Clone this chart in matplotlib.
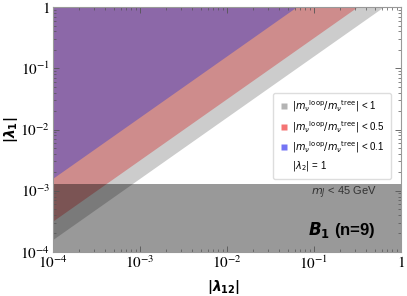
import matplotlib
matplotlib.use("Agg")
import matplotlib.pyplot as plt
from matplotlib.lines import Line2D
import matplotlib.ticker as mticker

plt.rcParams["mathtext.fontset"] = "stix"
plt.rcParams["font.family"] = ["Liberation Sans", "DejaVu Sans"]

# ---- data ----
lam12 = [1e-4, 1.0]                 # x endpoints
bound_r1 = [1.6e-4, 1.6]            # |m_loop/m_tree| < 1 lower edge
bound_r05 = [3.2e-4, 3.2]           # < 0.5
bound_r01 = [1.6e-3, 16.0]          # < 0.1
mj_cut = 1.3e-3                     # m_J < 45 GeV below this

tick_vals = [1e-4, 1e-3, 1e-2, 1e-1, 1]
tick_labels = [r"$10^{-4}$", r"$10^{-3}$", r"$10^{-2}$", r"$10^{-1}$", r"$1$"]

legend_labels = [
    r"$|m_\nu{}^{\rm loop}/m_\nu{}^{\rm tree}|$ < 1",
    r"$|m_\nu{}^{\rm loop}/m_\nu{}^{\rm tree}|$ < 0.5",
    r"$|m_\nu{}^{\rm loop}/m_\nu{}^{\rm tree}|$ < 0.1",
    r"$|\lambda_2|$ = 1",
]
legend_colors = ["#b4b4b4", "#f47474", "#7474f4", None]

GRAY = "#cccccc"
RED = "#ce8c8c"
PURPLE = "#8c68a8"

fig = plt.figure(figsize=(4.07, 2.96), dpi=100)
ax = fig.add_axes([0.130, 0.149, 0.855, 0.827])
ax.set_xscale("log")
ax.set_yscale("log")

ax.fill_between(lam12, bound_r1, 10, color=GRAY, lw=0)
ax.fill_between(lam12, bound_r05, 10, color=RED, lw=0)
ax.fill_between(lam12, bound_r01, 10, color=PURPLE, lw=0)
ax.axhspan(1e-5, mj_cut, color="black", alpha=0.4, lw=0)

ax.set_xlim(1e-4, 1)
ax.set_ylim(1e-4, 1)

for axis in (ax.xaxis, ax.yaxis):
    axis.set_major_locator(mticker.FixedLocator(tick_vals))
    axis.set_minor_locator(mticker.LogLocator(base=10, subs=range(2, 10), numticks=20))
    axis.set_minor_formatter(mticker.NullFormatter())
ax.set_xticklabels(tick_labels)
ax.set_yticklabels(tick_labels)
ax.tick_params(which="both", direction="in", top=True, right=True,
               color="#555555", labelsize=11, pad=2)
ax.tick_params(which="major", length=4, width=0.6)
ax.tick_params(which="minor", length=2, width=0.5)
for sp in ax.spines.values():
    sp.set_color("#999999")
    sp.set_linewidth(0.8)

fig.text(224 / 407, 1 - 287 / 296,
         r"$\mathbf{|}\mathbfit{\lambda}_{\mathbf{12}}\mathbf{|}$",
         math_fontfamily="dejavusans", fontsize=10, ha="center", va="center")
fig.text(11 / 407, 1 - 130 / 296,
         r"$\mathbf{|}\mathbfit{\lambda}_{\mathbf{1}}\mathbf{|}$",
         math_fontfamily="dejavusans", fontsize=10, ha="center", va="center",
         rotation=90)

ax.text(0.835, 0.24, r"$m_J$ < 45 GeV", transform=ax.transAxes,
        ha="center", va="center", fontsize=8, color="#333333",
        math_fontfamily="dejavusans")
ax.text(0.83, 0.09, r"$\mathbfit{B}_{\mathbf{1}}$ (n=9)", transform=ax.transAxes,
        ha="center", va="center", fontsize=12, fontweight="bold",
        math_fontfamily="dejavusans")

handles = []
for c in legend_colors:
    if c is None:
        handles.append(Line2D([], [], ls="none", marker=None))
    else:
        handles.append(Line2D([], [], ls="none", marker="s", ms=4.5,
                              mfc=c, mec="none"))
leg = ax.legend(handles, legend_labels, loc="upper right",
                bbox_to_anchor=(0.985, 0.67), fontsize=7, frameon=True,
                fancybox=True, framealpha=1, edgecolor="#dddddd",
                handlelength=1.0, handletextpad=0.4, labelspacing=0.45,
                borderpad=0.6)
for t in leg.get_texts():
    t.set_math_fontfamily("dejavusans")

fig.savefig("out.png", dpi=100)
